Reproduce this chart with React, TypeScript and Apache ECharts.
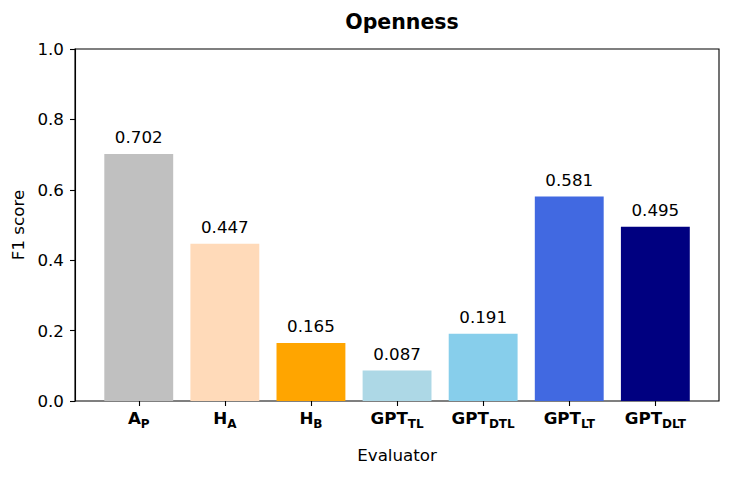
import React, { useEffect, useRef } from "react";
import * as echarts from "echarts";

const mains = ["A", "H", "H", "GPT", "GPT", "GPT", "GPT"];
const subs = ["P", "A", "B", "TL", "DTL", "LT", "DLT"];
const values = [0.702, 0.447, 0.165, 0.087, 0.191, 0.581, 0.495];
const colors = ["#C0C0C0", "#FFDAB9", "#FFA500", "#ADD8E6", "#87CEEB", "#4169E1", "#000080"];
const yTicks = [0, 0.2, 0.4, 0.6, 0.8, 1.0];

const FONT = "DejaVu Sans";
const FS = 16.7;

export default function App() {
  const ref = useRef<HTMLDivElement>(null);
  useEffect(() => {
    if (!ref.current) return;
    const chart = echarts.init(ref.current, null, { renderer: "svg" });
    const categories = mains.map((m, i) => `${m}|${subs[i]}`);
    chart.setOption({
      animation: false,
      backgroundColor: "#fff",
      title: {
        text: "Openness",
        left: 397,
        textAlign: "center",
        top: 6,
        textStyle: { fontFamily: FONT, fontSize: 20.5, fontWeight: "bold", color: "#000" },
      },
      grid: [
        { left: 75, right: 13, top: 49, bottom: 76, show: true, borderColor: "#000", borderWidth: 1.1, backgroundColor: "transparent" },
        { left: 95.7, right: 33.6, top: 49, bottom: 76 },
      ],
      xAxis: [
        { type: "category", gridIndex: 0, show: false, data: categories },
        {
          type: "category",
          gridIndex: 1,
          data: categories,
          name: "Evaluator",
          nameLocation: "middle",
          nameGap: 45,
          nameTextStyle: { fontFamily: FONT, fontSize: FS, color: "#000" },
          axisLine: { show: false },
          axisTick: { show: true, alignWithLabel: true, length: 5, lineStyle: { color: "#000", width: 1.1 } },
          axisLabel: {
            interval: 0,
            margin: 5,
            formatter: (v: string) => {
              const [m, s] = v.split("|");
              return `{b|${m}}{s|${s}}`;
            },
            rich: {
              b: { fontFamily: FONT, fontSize: FS, fontWeight: "bold", color: "#000", lineHeight: 24, verticalAlign: "middle" },
              s: { fontFamily: FONT, fontSize: 12, fontWeight: "bold", color: "#000", lineHeight: 13, verticalAlign: "bottom" },
            },
          },
        },
      ],
      yAxis: [
        {
          type: "value",
          gridIndex: 0,
          min: 0,
          max: 1,
          interval: 0.2,
          name: "F1 score",
          nameLocation: "middle",
          nameGap: 46,
          nameTextStyle: { fontFamily: FONT, fontSize: FS, color: "#000" },
          axisLine: { show: true, lineStyle: { color: "#000", width: 1.1 } },
          axisTick: { show: true, length: 5, lineStyle: { color: "#000", width: 1.1 } },
          splitLine: { show: false },
          axisLabel: {
            fontFamily: FONT,
            fontSize: FS,
            color: "#000",
            margin: 11,
            formatter: (v: number) => {
              const t = yTicks.find((x) => Math.abs(x - v) < 1e-9);
              return (t !== undefined ? t : v).toFixed(1);
            },
          },
        },
        { type: "value", gridIndex: 1, min: 0, max: 1, show: false, splitLine: { show: false } },
      ],
      series: [
        {
          type: "bar",
          xAxisIndex: 1,
          yAxisIndex: 1,
          barWidth: "80%",
          data: values.map((v, i) => ({ value: v, itemStyle: { color: colors[i] } })),
          label: {
            show: true,
            position: "top",
            distance: 8,
            fontFamily: FONT,
            fontSize: FS,
            color: "#000",
            formatter: (p: any) => Number(p.value).toFixed(3),
          },
        },
      ],
    });
    return () => chart.dispose();
  }, []);
  return <div ref={ref} style={{ width: 732, height: 477, margin: -8 }} />;
}
